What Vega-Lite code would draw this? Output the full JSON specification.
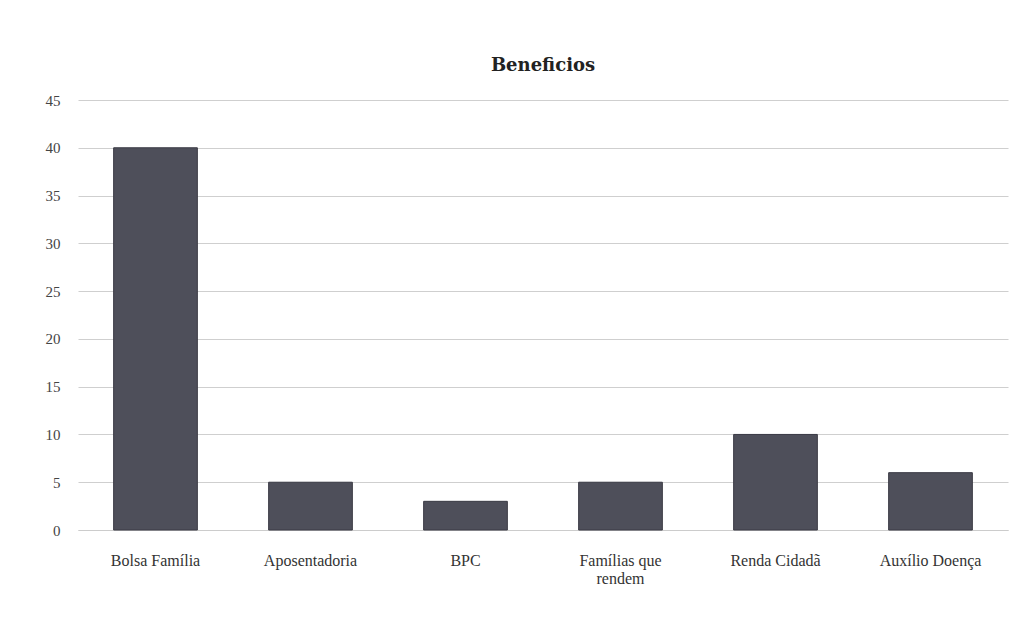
{
  "$schema": "https://vega.github.io/schema/vega-lite/v6.json",
  "width": 930,
  "height": 430,
  "autosize": "none",
  "padding": {"left": 78, "top": 100, "right": 23, "bottom": 95},
  "background": "white",
  "title": {
    "text": "Beneficios",
    "font": "DejaVu Serif",
    "fontSize": 18,
    "fontWeight": "bold",
    "color": "#222222",
    "offset": 18,
    "anchor": "middle"
  },
  "data": {
    "values": [
      {"beneficio": "Bolsa Família", "valor": 40},
      {"beneficio": "Aposentadoria", "valor": 5},
      {"beneficio": "BPC", "valor": 3},
      {"beneficio": "Famílias que rendem", "valor": 5},
      {"beneficio": "Renda Cidadã", "valor": 10},
      {"beneficio": "Auxílio Doença", "valor": 6}
    ]
  },
  "mark": {"type": "bar", "color": "#4e4f5a", "stroke": "#3a3a44", "strokeWidth": 1},
  "encoding": {
    "x": {
      "field": "beneficio",
      "type": "nominal",
      "sort": null,
      "title": null,
      "scale": {"paddingInner": 0.46, "paddingOuter": 0.23},
      "axis": {
        "labelAngle": 0,
        "labelFont": "Liberation Serif",
        "labelFontSize": 16,
        "labelColor": "#333333",
        "labelPadding": 22,
        "ticks": false,
        "domainColor": "#cccccc",
        "labelExpr": "datum.label == 'Famílias que rendem' ? ['Famílias que', 'rendem'] : datum.label"
      }
    },
    "y": {
      "field": "valor",
      "type": "quantitative",
      "title": null,
      "scale": {"domain": [0, 45]},
      "axis": {
        "values": [0, 5, 10, 15, 20, 25, 30, 35, 40, 45],
        "labelFont": "Liberation Serif",
        "labelFontSize": 15,
        "labelColor": "#444444",
        "labelPadding": 18,
        "ticks": false,
        "domain": false,
        "gridColor": "#cfcfcf",
        "gridWidth": 1
      }
    }
  },
  "config": {"view": {"stroke": null}}
}
